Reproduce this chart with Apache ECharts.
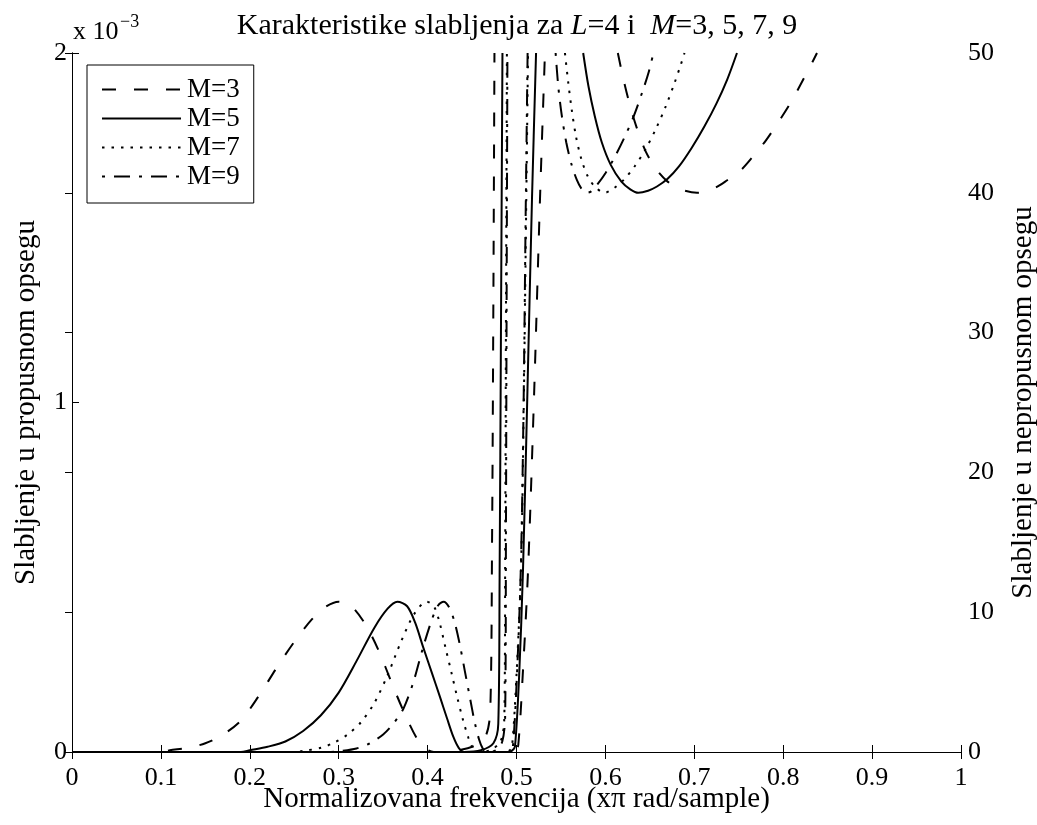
<!DOCTYPE html>
<html>
<head>
<meta charset="utf-8">
<script src="https://cdn.jsdelivr.net/npm/echarts@6/dist/echarts.min.js"></script>
<style>html,body{margin:0;padding:0;background:#fff}#c{width:1037px;height:825px}</style>
</head>
<body>
<div id="c"></div>
<script>
// ---- data (frequency in x pi rad/sample; passband attenuation in 1e-3 dB; stopband attenuation in dB)
const seriesNames = ['M=3', 'M=5', 'M=7', 'M=9'];
const xTicks = [0, 0.1, 0.2, 0.3, 0.4, 0.5, 0.6, 0.7, 0.8, 0.9, 1];
const leftTicks = [0, 1, 2];
const rightTicks = [0, 10, 20, 30, 40, 50];

const passM3 = [[0,0],[0.1,0],[0.11,0.005],[0.13,0.012],[0.15,0.025],[0.17,0.05],[0.19,0.09],[0.21,0.16],[0.23,0.24],[0.25,0.315],[0.27,0.38],[0.285,0.415],[0.3,0.43],[0.315,0.415],[0.33,0.365],[0.345,0.29],[0.36,0.195],[0.375,0.105],[0.39,0.03],[0.4,0.006],[0.407,0],[0.43,0.003],[0.455,0.02],[0.466,0.05],[0.4705,0.12],[0.4725,0.6],[0.474,1.3],[0.4752,2.0]];
const passM5 = [[0,0],[0.19,0],[0.2,0.005],[0.22,0.015],[0.24,0.03],[0.26,0.06],[0.28,0.105],[0.3,0.17],[0.32,0.26],[0.34,0.355],[0.355,0.41],[0.366,0.43],[0.377,0.417],[0.386,0.37],[0.395,0.30],[0.405,0.225],[0.414,0.157],[0.422,0.095],[0.429,0.043],[0.435,0.012],[0.441,0],[0.46,0.005],[0.474,0.025],[0.4795,0.08],[0.481,0.5],[0.4825,1.2],[0.4842,2.0]];
const passM7 = [[0,0],[0.25,0],[0.26,0.003],[0.28,0.012],[0.295,0.027],[0.31,0.05],[0.325,0.085],[0.34,0.14],[0.355,0.22],[0.37,0.315],[0.385,0.395],[0.399,0.43],[0.407,0.417],[0.413,0.375],[0.42,0.30],[0.427,0.225],[0.433,0.16],[0.44,0.09],[0.446,0.04],[0.45,0.015],[0.454,0],[0.47,0.005],[0.482,0.03],[0.4863,0.1],[0.4873,0.6],[0.4882,1.3],[0.4892,2.0]];
const passM9 = [[0,0],[0.29,0],[0.3,0.002],[0.32,0.01],[0.335,0.025],[0.35,0.05],[0.362,0.083],[0.373,0.125],[0.384,0.2],[0.395,0.3],[0.405,0.38],[0.412,0.42],[0.418,0.43],[0.424,0.415],[0.43,0.375],[0.436,0.31],[0.442,0.23],[0.448,0.15],[0.453,0.085],[0.458,0.035],[0.462,0.01],[0.466,0],[0.477,0.005],[0.484,0.03],[0.4872,0.1],[0.4881,0.6],[0.4889,1.3],[0.4898,2.0]];

const stopM3 = [[0,0],[0.494,0],[0.499,0.1],[0.502,0.5],[0.507,5.5],[0.513,13],[0.52,26],[0.5264,39.5],[0.532,50],[0.573,null],[0.614,50],[0.62,48.2],[0.627,46.4],[0.635,44.7],[0.645,43.0],[0.657,41.7],[0.67,40.8],[0.685,40.25],[0.703,40],[0.72,40.25],[0.737,40.9],[0.752,41.6],[0.766,42.6],[0.78,43.7],[0.794,45.0],[0.808,46.4],[0.82,47.8],[0.83,49.0],[0.838,50]];
const stopM5 = [[0,0],[0.49,0],[0.495,0.1],[0.4983,0.4],[0.503,5.5],[0.5073,13],[0.512,25],[0.5174,39.5],[0.522,50],[0.55,null],[0.575,50],[0.581,47.6],[0.588,45.5],[0.596,43.6],[0.606,42.0],[0.618,40.8],[0.628,40.25],[0.637,40],[0.648,40.15],[0.658,40.45],[0.67,41.0],[0.683,41.9],[0.697,43.2],[0.711,44.7],[0.725,46.4],[0.737,48.1],[0.748,50]];
const stopM7 = [[0,0],[0.488,0],[0.492,0.1],[0.495,0.4],[0.5,5.5],[0.505,13],[0.508,24],[0.511,39.5],[0.513,50],[0.535,null],[0.5545,50],[0.558,48.0],[0.562,46.0],[0.567,44.0],[0.573,42.4],[0.58,41.2],[0.588,40.45],[0.599,40],[0.61,40.35],[0.621,40.95],[0.633,41.9],[0.645,43.1],[0.657,44.6],[0.668,46.2],[0.678,47.9],[0.685,49.2],[0.689,50]];
const stopM9 = [[0,0],[0.489,0],[0.493,0.1],[0.496,0.4],[0.5005,5.5],[0.5048,13],[0.5078,24],[0.5105,39.5],[0.5125,50],[0.53,null],[0.544,50],[0.547,47.6],[0.551,45.5],[0.556,43.6],[0.562,42.0],[0.568,40.9],[0.573,40.3],[0.578,40],[0.584,40.1],[0.591,40.6],[0.6,41.4],[0.61,42.5],[0.621,43.9],[0.632,45.5],[0.642,47.3],[0.649,48.7],[0.654,50]];

const passData = [passM3, passM5, passM7, passM9];
const stopData = [stopM3, stopM5, stopM7, stopM9];

// ---- styles
const FONT = 'Liberation Serif';
const dashes = [[14, 18], 'solid', [2.5, 7], [16, 9, 3, 9]];
const dashOffsets = [0, 0, 0, 25];

const chart = echarts.init(document.getElementById('c'), null, {renderer: 'canvas'});

function mkSeries(name, data, yIdx, i) {
  return {
    name: name, type: 'line', xAxisIndex: 0, yAxisIndex: yIdx,
    data: data, symbol: 'none', showSymbol: false, smooth: 0.3,
    clip: true, animation: false, silent: true,
    lineStyle: {color: '#000', width: 2, type: dashes[i], dashOffset: dashOffsets[i], cap: 'butt'}
  };
}
const series = [];
seriesNames.forEach((n, i) => {
  series.push(mkSeries(n, passData[i], 0, i));
  series.push(mkSeries(n, stopData[i], 1, i));
});

const axisCommon = {
  axisLine: {show: true, lineStyle: {color: '#000', width: 1}},
  axisTick: {show: true, inside: true, length: 7, lineStyle: {color: '#000', width: 1}},
  splitLine: {show: false},
  axisLabel: {color: '#000', fontFamily: FONT, fontSize: 26},
  nameMoveOverlap: false,
  nameTextStyle: {color: '#000', fontFamily: FONT, fontSize: 29}
};

const option = {
  backgroundColor: '#fff',
  animation: false,
  grid: {left: 72, top: 53, width: 889, height: 699, containLabel: false, outerBoundsMode: 'none'},
  legend: {
    data: seriesNames, orient: 'vertical', left: 87, top: 65,
    itemWidth: 79, itemHeight: 14, itemGap: 2,
    padding: [11, 14, 13, 14],
    borderColor: '#000', borderWidth: 1, backgroundColor: '#fff',
    textStyle: {color: '#000', fontFamily: FONT, fontSize: 27, padding: [0, 0, 0, 1]},
    itemStyle: {opacity: 0}, selectedMode: false
  },
  xAxis: [
    Object.assign({}, axisCommon, {
      type: 'value', position: 'bottom', min: xTicks[0], max: xTicks[xTicks.length - 1],
      interval: xTicks[1] - xTicks[0],
      axisLabel: Object.assign({}, axisCommon.axisLabel, {margin: 13}),
      name: 'Normalizovana frekvencija (xπ rad/sample)', nameLocation: 'middle', nameGap: 33
    }),
    Object.assign({}, axisCommon, {
      type: 'value', position: 'top', min: xTicks[0], max: xTicks[xTicks.length - 1],
      interval: xTicks[1] - xTicks[0], axisLabel: {show: false}
    })
  ],
  yAxis: [
    Object.assign({}, axisCommon, {
      type: 'value', position: 'left', min: leftTicks[0], max: leftTicks[leftTicks.length - 1],
      interval: leftTicks[1] - leftTicks[0],
      axisLabel: Object.assign({}, axisCommon.axisLabel, {margin: 5}),
      name: 'Slabljenje u propusnom opsegu', nameLocation: 'middle', nameRotate: 90, nameGap: 31
    }),
    Object.assign({}, axisCommon, {
      type: 'value', position: 'right', min: rightTicks[0], max: rightTicks[rightTicks.length - 1],
      interval: rightTicks[1] - rightTicks[0],
      axisLabel: Object.assign({}, axisCommon.axisLabel, {margin: 7}),
      name: 'Slabljenje u nepropusnom opsegu', nameLocation: 'middle', nameRotate: 90, nameGap: 48
    })
  ],
  graphic: [
    {
      type: 'text', x: 517, y: 11, z: 10,
      style: {
        text: '{n|Karakteristike slabljenja za }{i|L}{n|=4 i  }{i|M}{n|=3, 5, 7, 9}',
        align: 'center', verticalAlign: 'top',
        rich: {
          n: {fontFamily: FONT, fontSize: 30, fill: '#000'},
          i: {fontFamily: FONT, fontSize: 30, fontStyle: 'italic', fill: '#000'}
        }
      }
    },
    {
      type: 'text', x: 73, y: 19, z: 10,
      style: {text: 'x 10', fontFamily: FONT, fontSize: 26, fill: '#000', align: 'left', verticalAlign: 'top'}
    },
    {
      type: 'text', x: 120, y: 13, z: 10,
      style: {text: '\u22123', fontFamily: FONT, fontSize: 18, fill: '#000', align: 'left', verticalAlign: 'top'}
    }
  ],
  series: series
};
chart.setOption(option);
</script>
</body>
</html>
